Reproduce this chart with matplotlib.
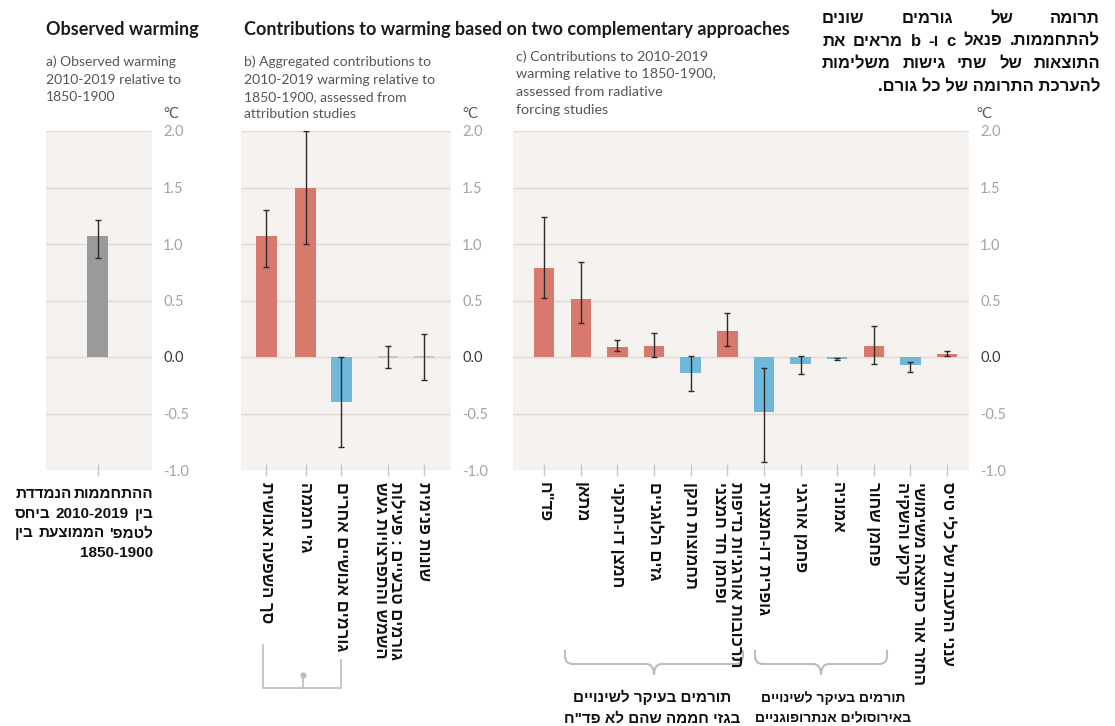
import matplotlib
matplotlib.use("Agg")
import matplotlib.pyplot as plt
import numpy as np
from matplotlib.path import Path
from matplotlib.patches import PathPatch

plt.rcParams['axes.unicode_minus'] = False

# ---- data ----
obs_labels = [""]
obs_values = [1.07]
obs_low = [0.88]
obs_high = [1.21]

attr_labels = ["סך השפעה אנושית", "גזי חממה", "גורמים אנושיים אחרים",
               "גורמים טבעיים : פעילות\nהשמש והתפרצויות געש", "שונות פנימית"]
attr_values = [1.07, 1.50, -0.40, 0.00, 0.00]
attr_low = [0.80, 1.00, -0.80, -0.10, -0.20]
attr_high = [1.30, 2.00, 0.00, 0.10, 0.20]

rf_labels = ['פד"ח', "מתאן", "חמצן דו-חנקני", "גזים הלוגניים", "תחמוצות חנקן",
             "תרכובות אורגניות נדיפות\nופחמן חד חמצני", "גופרית דו-חמצנית",
             "פחמן אורגני", "אמוניה", "פחמן שחור",
             "החזר אור כתוצאה משימושי\nקרקע והשקיה", "ענני התעבות של כלי טיס"]
rf_values = [0.79, 0.51, 0.09, 0.10, -0.14, 0.23, -0.49, -0.06, -0.02, 0.10, -0.07, 0.03]
rf_low = [0.52, 0.30, 0.05, 0.00, -0.30, 0.10, -0.93, -0.15, -0.03, -0.06, -0.13, 0.01]
rf_high = [1.24, 0.84, 0.15, 0.21, 0.01, 0.39, -0.10, 0.01, -0.01, 0.27, -0.04, 0.05]

y_ticks = [-1.0, -0.5, 0.0, 0.5, 1.0, 1.5, 2.0]

note_lines = ["תרומה של גורמים שונים",
              "להתחממות. פנאל c ו- b מראים את",
              "התוצאות של שתי גישות משלימות",
              "להערכת התרומה של כל גורם."]
obs_note = ["ההתחממות הנמדדת", "בין 2010-2019 ביחס", "לטמפ' הממוצעת בין", "1850-1900"]
group_ghg = ["תורמים בעיקר לשינויים", 'בגזי חממה שהם לא פד"ח']
group_aer = ["תורמים בעיקר לשינויים", "באירוסולים אנתרופוגניים"]

RED = '#d7796d'
BLUE = '#6fb8da'
GREY = '#9a9a9a'
BG = '#f5f2ef'
HEB = ['Liberation Sans', 'DejaVu Sans']
ENG = ['Lato', 'DejaVu Sans']
W, H = 1115, 726


def flip(word):
    # visual order for one token (matplotlib has no bidi)
    if any('\u0590' <= ch <= '\u05ff' for ch in word):
        return word[::-1]
    return word


def bidi(text):
    return '\n'.join(' '.join(flip(w) for w in reversed(line.split(' ')))
                     for line in text.split('\n'))


fig = plt.figure(figsize=(W / 100, H / 100), dpi=100)
ov = fig.add_axes([0, 0, 1, 1])
ov.set_xlim(0, W)
ov.set_ylim(H, 0)
ov.axis('off')


def px_axes(x0, y0, x1, y1):
    return fig.add_axes([x0 / W, 1 - y1 / H, (x1 - x0) / W, (y1 - y0) / H])


def panel(ax, pos, xlim, values, low, high, labels, colors, width=0.58):
    ax.set_facecolor(BG)
    for s in ax.spines.values():
        s.set_visible(False)
    ax.set_ylim(-1, 2)
    ax.set_xlim(*xlim)
    ax.set_yticks(y_ticks)
    ax.yaxis.tick_right()
    ax.set_yticklabels([f'{v:.1f}' for v in y_ticks], fontfamily=ENG, fontsize=10.5)
    for t, v in zip(ax.get_yticklabels(), y_ticks):
        t.set_color('#3a3a3a' if v == 0 else '#a3a3a3')
    ax.tick_params(axis='y', length=0, pad=8)
    ax.yaxis.grid(True, color='#dedad5', lw=1)
    ax.set_axisbelow(True)
    pos = np.asarray(pos, dtype=float)
    values = np.asarray(values)
    ax.bar(pos, values, width=width, color=colors, zorder=2)
    for p, v in zip(pos, values):
        if v == 0:
            ax.hlines(0, p - width / 2, p + width / 2, color='#cbc7c2', lw=1.5, zorder=2)
    ax.errorbar(pos, values, yerr=[values - np.asarray(low), np.asarray(high) - values],
                fmt='none', ecolor='#2b2b2b', elinewidth=1, capsize=2, capthick=1, zorder=3)
    ax.set_xticks(pos)
    ax.set_xticklabels([bidi(l) for l in labels], rotation=-90, va='top', ha='center',
                       fontfamily=HEB, fontweight='bold', fontsize=12, color='#111111')
    for t in ax.get_xticklabels():
        t.set_multialignment('left')
        t.set_linespacing(1.05)
    ax.tick_params(axis='x', direction='inout', length=8, color='#cdc8c3', width=1, pad=5)


def sign_colors(vals):
    return [RED if v > 0 else BLUE for v in vals]


ax_a = px_axes(46, 131, 152, 470)
panel(ax_a, [0], (-1.43, 1.51), obs_values, obs_low, obs_high, obs_labels, [GREY])

ax_b = px_axes(241, 131, 451, 470)
panel(ax_b, [0, 1.1, 2.08, 3.38, 4.38], (-0.7, 5.13), attr_values, attr_low, attr_high,
      attr_labels, sign_colors(attr_values))

ax_c = px_axes(513, 131, 969, 470)
panel(ax_c, np.arange(len(rf_values)), (-0.85, 11.6), rf_values, rf_low, rf_high,
      rf_labels, sign_colors(rf_values), width=0.56)

# units
for x in (171, 470, 984):
    ov.text(x, 118, '°C', ha='center', va='baseline', fontsize=10.5, family=ENG, color='#555555')

# headings
ov.text(46, 35, 'Observed warming', fontsize=13, fontweight='bold', family=ENG, color='#1c1c1c')
ov.text(244, 35, 'Contributions to warming based on two complementary approaches',
        fontsize=13, fontweight='bold', family=ENG, color='#1c1c1c')

subs = [
    (46, 66, 10, ["a) Observed warming", "2010-2019 relative to", "1850-1900"]),
    (244, 66, 10, ["b) Aggregated contributions to", "2010-2019 warming relative to",
                   "1850-1900, assessed from", "attribution studies"]),
    (516, 61, 10.3, ["c) Contributions to 2010-2019", "warming relative to 1850-1900,",
                     "assessed from radiative", "forcing studies"]),
]
for x, y, fs, lines in subs:
    for i, line in enumerate(lines):
        ov.text(x, y + i * 17.5, line, fontsize=fs, family=ENG, color='#555555', va='baseline')

renderer = fig.canvas.get_renderer()


def heb_line(text, left, right, y, size, justify=True, ha='right'):
    kw = dict(fontsize=size, fontweight='bold', family=HEB, color='#111111', va='baseline')
    words = text.split(' ')
    if not justify or len(words) == 1:
        x = right if ha == 'right' else (left + right) / 2
        ov.text(x, y, bidi(text), ha=ha, **kw)
        return
    arts = [ov.text(0, y, flip(w), ha='right', **kw) for w in words]
    widths = [a.get_window_extent(renderer).width for a in arts]
    gap = ((right - left) - sum(widths)) / (len(words) - 1)
    x = right
    for a, wd in zip(arts, widths):
        a.set_x(x)
        x -= wd + gap


for i, line in enumerate(note_lines):
    heb_line(line, 822, 1100, 23 + i * 22.6, 12, justify=i < len(note_lines) - 1)

for i, line in enumerate(obs_note):
    heb_line(line, 15, 153, 498 + i * 19.6, 11, justify=i < len(obs_note) - 1)

for i, line in enumerate(group_ghg):
    heb_line(line, 562, 742, 702 + i * 20, 11, justify=False, ha='center')
for i, line in enumerate(group_aer):
    heb_line(line, 769, 898, 702 + i * 20, 10, justify=False, ha='center')

# brackets
bc = '#bdbdbd'
ov.plot([263, 263, 341, 341], [645, 688, 688, 660], color=bc, lw=1.2)
ov.plot([303, 303], [675, 688], color=bc, lw=1.2)
ov.plot([303], [675], 'o', color=bc, ms=3.5)


def curly(x0, x1, ytop, ybot, ytip, r=8):
    xm = (x0 + x1) / 2
    verts, codes = [], []
    for xe, s in ((x0, 1), (x1, -1)):
        verts += [(xe, ytop), (xe, ybot - r), (xe, ybot), (xe + s * r, ybot),
                  (xm - s * r, ybot), (xm, ybot), (xm, ytip)]
        codes += [Path.MOVETO, Path.LINETO, Path.CURVE3, Path.CURVE3,
                  Path.LINETO, Path.CURVE3, Path.CURVE3]
    ov.add_patch(PathPatch(Path(verts, codes), fill=False, edgecolor=bc, lw=1.5))


curly(565, 743, 650, 664, 675)
curly(755, 887, 650, 664, 675)

fig.savefig('out.png', dpi=100)
